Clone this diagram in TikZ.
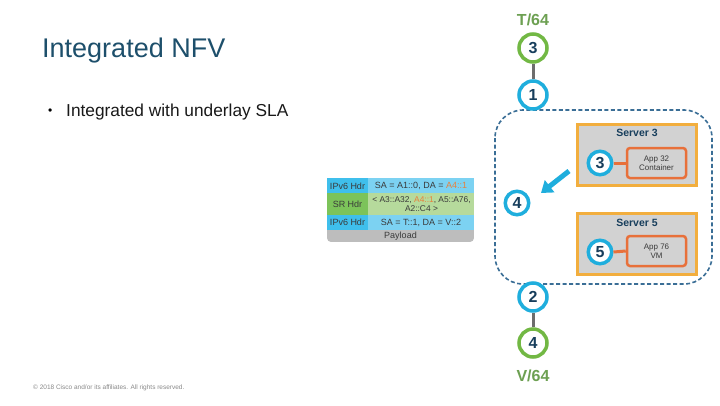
\documentclass[tikz,border=0pt]{standalone}
\usepackage{fontspec}
\setmainfont{Liberation Sans}
\usetikzlibrary{arrows.meta}
\definecolor{titleblue}{HTML}{1D4F6B}
\definecolor{navy}{HTML}{173E5C}
\definecolor{ringcyan}{HTML}{1FAEDD}
\definecolor{ringgreen}{HTML}{72B844}
\definecolor{txtgreen}{HTML}{6DA052}
\definecolor{linkgray}{HTML}{6D6D6D}
\definecolor{dashblue}{HTML}{3A6E96}
\definecolor{srvorange}{HTML}{F2AE3E}
\definecolor{apporange}{HTML}{E8703A}
\definecolor{srvgray}{HTML}{D2D2D2}
\definecolor{ipv6dark}{HTML}{3FBFEC}
\definecolor{ipv6light}{HTML}{7CD2F2}
\definecolor{srdark}{HTML}{7CC35A}
\definecolor{srlight}{HTML}{B6DA9C}
\definecolor{paygray}{HTML}{BDBDBD}
\definecolor{tabtxt}{HTML}{3A3A3A}
\definecolor{hl}{HTML}{E8803C}
\definecolor{copygray}{HTML}{8A8A8A}
\begin{document}
\begin{tikzpicture}[x=1pt,y=-1pt,
  bigring/.style={circle, draw=#1, line width=3.5pt, fill=white, minimum size=28pt, inner sep=0pt,
    text=navy, font=\fontsize{16}{16}\selectfont\bfseries},
  smallring/.style={circle, draw=#1, line width=3.5pt, fill=white, minimum size=23.5pt, inner sep=0pt,
    text=navy, font=\fontsize{16}{16}\selectfont\bfseries},
  linkline/.style={draw=linkgray, line width=3pt},
  server/.style={draw=srvorange, fill=srvgray, line width=3pt, minimum width=119pt, minimum height=61pt, inner sep=0pt},
  srvlabel/.style={text=navy, font=\fontsize{10.5}{12}\selectfont\bfseries},
  appbox/.style={draw=apporange, fill=srvgray, line width=2.5pt, rounded corners=3pt, minimum width=59pt, minimum height=30pt,
    inner sep=0pt, align=center, text=tabtxt, font=\fontsize{8}{9}\selectfont},
  tabcell/.style={text=tabtxt, font=\fontsize{9}{10}\selectfont, align=center, inner sep=0pt},
  prefixlbl/.style={text=txtgreen, font=\fontsize{16}{16}\selectfont\bfseries}
]
\useasboundingbox (0,0) rectangle (720,405);
\fill[white] (0,0) rectangle (720,405);

% title and bullet
\node[anchor=base west, inner sep=0pt, text=titleblue, font=\fontsize{27}{27}\selectfont] (title) at (42,57) {Integrated NFV};
\node[anchor=base west, inner sep=0pt, font=\fontsize{12}{12}\selectfont] (bul) at (48,114) {\textbullet};
\node[anchor=base west, inner sep=0pt, text=black!90, font=\fontsize{17.3}{17}\selectfont] (bultxt) at (66,116) {Integrated with underlay SLA};

% dashed domain
\draw[dashblue, line width=1.6pt, dash pattern=on 4pt off 2.5pt, rounded corners=28pt] (495,110) rectangle (712,284);

% top chain
\node[prefixlbl] (tpre) at (533,20) {T/64};
\node[bigring=ringgreen] (t3) at (533,48) {3};
\node[bigring=ringcyan] (c1) at (533,95) {1};
\draw[linkline] (t3) -- (c1);

% bottom chain
\node[bigring=ringcyan] (c2) at (533,297) {2};
\node[bigring=ringgreen] (v4) at (533,343) {4};
\draw[linkline] (c2) -- (v4);
\node[prefixlbl] (vpre) at (533,376) {V/64};

% servers
\node[server] (srv3) at (637,155) {};
\node[srvlabel] (srv3l) at (637,133) {Server 3};
\node[appbox] (app32) at (656.5,163) {App 32\\Container};
\node[smallring=ringcyan] (s3) at (600,163) {3};
\draw[apporange, line width=3pt] (s3.east) -- (app32.west);

\node[server] (srv5) at (637,244) {};
\node[srvlabel] (srv5l) at (637,223) {Server 5};
\node[appbox] (app76) at (656.5,251) {App 76\\VM};
\node[smallring=ringcyan] (s5) at (600,252) {5};
\draw[apporange, line width=3pt] (s5.east) -- (app76.west);

% arrow and 4
\node[smallring=ringcyan] (c4) at (517,203) {4};
\coordinate (arrS) at (569,171);
\coordinate (arrE) at (541,193);
\draw[ringcyan, line width=5pt, -{Triangle[width=15pt,length=11pt]}] (arrS) -- (arrE);

% packet table
\begin{scope}
\clip[rounded corners=4pt] (327,170) rectangle (474,242);
\fill[ipv6dark] (327,178) rectangle (368,193);
\fill[ipv6light] (368,178) rectangle (474,193);
\fill[srdark] (327,193) rectangle (368,215);
\fill[srlight] (368,193) rectangle (474,215);
\fill[ipv6dark] (327,215) rectangle (368,230);
\fill[ipv6light] (368,215) rectangle (474,230);
\fill[paygray] (327,230) rectangle (474,242);
\end{scope}
\node[tabcell] (h1) at (347.5,186) {IPv6 Hdr};
\node[tabcell] (h1v) at (421,186) {SA = A1::0, DA = \textcolor{hl}{A4::1}};
\node[tabcell] (h2) at (347.5,204) {SR Hdr};
\node[tabcell, font=\fontsize{8.4}{9.6}\selectfont] (h2v) at (421.5,204) {< A3::A32, \textcolor{hl}{A4::1}, A5::A76,\\A2::C4 >};
\node[tabcell] (h3) at (347.5,222.5) {IPv6 Hdr};
\node[tabcell] (h3v) at (421,222.5) {SA = T::1, DA = V::2};
\node[tabcell] (h4) at (400.5,236) {Payload};

% copyright
\node[anchor=west, inner sep=0pt, text=copygray, font=\fontsize{6.5}{7}\selectfont] (copy) at (33,388) {© 2018 Cisco and/or its affiliates. All rights reserved.};
\end{tikzpicture}
\end{document}
